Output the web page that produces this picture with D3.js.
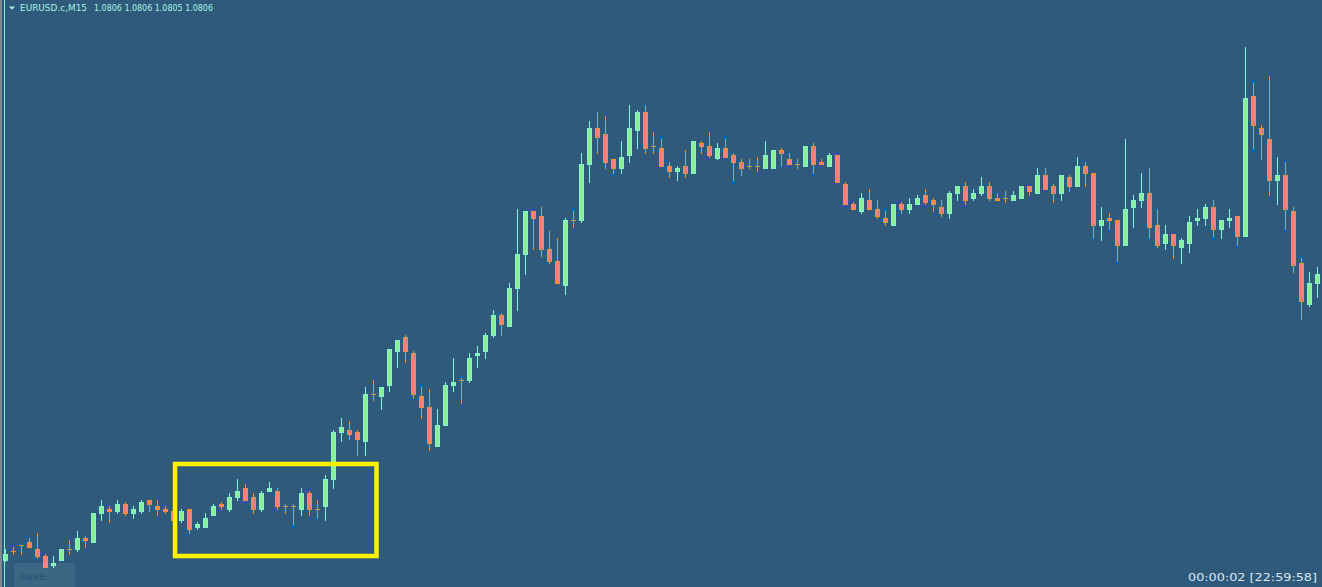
<!DOCTYPE html>
<html>
<head>
<meta charset="utf-8">
<script src="https://cdn.jsdelivr.net/npm/d3@7/dist/d3.min.js"></script>
<style>
html,body{margin:0;padding:0;background:#2f5a7b;overflow:hidden;}
svg{display:block;}
</style>
</head>
<body>
<svg id="chart" width="1322" height="587"></svg>
<script>
const symbolLabel = "EURUSD.c,M15";
const lastQuote = ["1.0806", "1.0806", "1.0805", "1.0806"];
const timerText = "00:00:02 [22:59:58]";
const buttonLabel = "save";

const open = [
1.07773,1.077825,1.077885,1.07792,1.07785,1.07778,1.07768,1.07773,1.07785,1.07784,
1.07796,1.07791,1.07820,1.07825,1.07822,1.07830,1.07820,1.07822,1.07834,1.07828,
1.07825,1.07823,1.07813,1.07825,1.07806,1.07806,1.07818,1.07830,1.07824,1.07836,
1.07846,1.07837,1.07824,1.07842,1.07843,1.07828,1.07828,1.07824,1.07841,1.07825,
1.07827,1.07854,1.07901,1.07904,1.07902,1.07892,1.07940,1.07937,1.07948,1.07982,
1.07997,1.07981,1.07938,1.07927,1.07887,1.07908,1.07948,1.07954,1.07953,1.07978,
1.07982,1.07998,1.08019,1.08007,1.08045,1.08079,1.08123,1.08118,1.08085,1.08073,
1.08048,1.08114,1.08113,1.08169,1.08206,1.08200,1.08175,1.08165,1.08178,1.08203,
1.08222,1.08188,1.08186,1.08168,1.08162,1.08168,1.08160,1.08191,1.08188,1.08175,
1.08186,1.08179,1.08172,1.08168,1.08168,1.08165,1.08165,1.08184,1.08175,1.08170,
1.08167,1.08188,1.08172,1.08167,1.08179,1.08150,1.08130,1.08122,1.08134,1.08125,
1.08116,1.08108,1.08130,1.08124,1.08129,1.08139,1.08134,1.08127,1.08120,1.08140,
1.08148,1.08135,1.08140,1.08148,1.08136,1.08136,1.08133,1.08135,1.08148,1.08140,
1.08159,1.08148,1.08140,1.08157,1.08147,1.08168,1.08161,1.08108,1.08116,1.08114,
1.08088,1.08126,1.08133,1.08141,1.08109,1.08090,1.08100,1.08086,1.08090,1.08113,
1.08115,1.08127,1.08104,1.08113,1.08118,1.08097,1.08238,1.08206,1.08195,1.08153,
1.08159,1.08123,1.08071,1.08029,1.08050];

const high = [
1.07785,1.07787,1.077885,1.07796,1.07801,1.07780,1.07778,1.07785,1.07794,1.07803,
1.07798,1.07821,1.07834,1.07828,1.07834,1.07832,1.07828,1.07834,1.07834,1.07834,
1.07828,1.07824,1.07825,1.07825,1.07812,1.07821,1.07830,1.07832,1.07841,1.07855,
1.07850,1.07841,1.07843,1.07852,1.07846,1.07830,1.07830,1.07846,1.07843,1.07834,
1.07859,1.07904,1.07916,1.07913,1.07904,1.07947,1.07954,1.07947,1.07985,1.07994,
1.07999,1.07983,1.07947,1.07945,1.07925,1.07952,1.07976,1.07956,1.07981,1.07988,
1.08001,1.08024,1.08021,1.08051,1.08125,1.08123,1.08123,1.08127,1.08103,1.08096,
1.08116,1.08123,1.08181,1.08213,1.08222,1.08218,1.08175,1.08193,1.08229,1.08224,
1.08229,1.08202,1.08195,1.08172,1.08168,1.08184,1.08193,1.08193,1.08202,1.08191,
1.08195,1.08181,1.08175,1.08175,1.08177,1.08193,1.08184,1.08186,1.08181,1.08175,
1.08188,1.08191,1.08175,1.08181,1.08179,1.08152,1.08132,1.08141,1.08145,1.08134,
1.08123,1.08130,1.08132,1.08136,1.08139,1.08145,1.08136,1.08134,1.08143,1.08148,
1.08152,1.08145,1.08157,1.08152,1.08141,1.08143,1.08143,1.08148,1.08148,1.08166,
1.08166,1.08150,1.08159,1.08159,1.08177,1.08172,1.08161,1.08127,1.08121,1.08114,
1.08195,1.08139,1.08161,1.08166,1.08125,1.08109,1.08100,1.08096,1.08118,1.08125,
1.08130,1.08134,1.08114,1.08125,1.08118,1.08287,1.08251,1.08209,1.08258,1.08177,
1.08172,1.08127,1.08076,1.08062,1.08067];

const low = [
1.07772,1.07779,1.07779,1.07786,1.07775,1.07766,1.07766,1.07773,1.07779,1.07782,
1.07786,1.07791,1.07813,1.07811,1.07820,1.07818,1.07815,1.07820,1.07822,1.07818,
1.07820,1.07812,1.07811,1.07800,1.07804,1.07806,1.07818,1.07824,1.07822,1.07833,
1.07833,1.07820,1.07822,1.07842,1.07824,1.07820,1.07809,1.07818,1.07818,1.07815,
1.07813,1.07845,1.07892,1.07894,1.07878,1.07878,1.07933,1.07924,1.07942,1.07966,
1.07971,1.07935,1.07915,1.07883,1.07887,1.07908,1.07942,1.07930,1.07951,1.07966,
1.07975,1.07996,1.07998,1.08007,1.08023,1.08059,1.08084,1.08077,1.08070,1.08050,
1.08039,1.08106,1.08111,1.08151,1.08180,1.08165,1.08160,1.08160,1.08171,1.08185,
1.08180,1.08180,1.08167,1.08156,1.08153,1.08156,1.08160,1.08180,1.08176,1.08174,
1.08176,1.08153,1.08158,1.08165,1.08162,1.08165,1.08165,1.08167,1.08169,1.08165,
1.08167,1.08160,1.08169,1.08167,1.08151,1.08129,1.08124,1.08120,1.08124,1.08115,
1.08108,1.08108,1.08120,1.08120,1.08129,1.08129,1.08122,1.08117,1.08115,1.08133,
1.08129,1.08133,1.08138,1.08133,1.08133,1.08131,1.08133,1.08135,1.08138,1.08140,
1.08144,1.08131,1.08133,1.08142,1.08147,1.08147,1.08095,1.08093,1.08104,1.08072,
1.08088,1.08106,1.08126,1.08095,1.08086,1.08084,1.08075,1.08070,1.08081,1.08108,
1.08108,1.08097,1.08095,1.08106,1.08088,1.08097,1.08185,1.08174,1.08138,1.08129,
1.08104,1.08061,1.08014,1.08027,1.08036];

const close = [
1.07780,1.077825,1.077885,1.07786,1.07777,1.07766,1.07771,1.07785,1.07785,1.07796,
1.07793,1.07821,1.07828,1.07822,1.07830,1.07820,1.07825,1.07832,1.07829,1.07824,
1.07822,1.07813,1.07823,1.07804,1.07810,1.07816,1.07828,1.07827,1.07837,1.07843,
1.07833,1.07824,1.07841,1.07846,1.07827,1.07828,1.07828,1.07841,1.07824,1.07825,
1.07855,1.07902,1.07907,1.07899,1.07894,1.07940,1.07940,1.07947,1.07985,1.07994,
1.07982,1.07939,1.07926,1.07890,1.07909,1.07949,1.07952,1.07954,1.07976,1.07981,
1.07999,1.08019,1.08009,1.08046,1.08080,1.08123,1.08115,1.08084,1.08072,1.08050,
1.08114,1.08114,1.08170,1.08206,1.08196,1.08171,1.08165,1.08177,1.08206,1.08222,
1.08185,1.08188,1.08167,1.08162,1.08166,1.08160,1.08193,1.08187,1.08178,1.08186,
1.08176,1.08171,1.08165,1.08168,1.08168,1.08179,1.08184,1.08180,1.08169,1.08170,
1.08188,1.08169,1.08169,1.08179,1.08151,1.08129,1.08124,1.08136,1.08124,1.08117,
1.08111,1.08130,1.08124,1.08130,1.08136,1.08131,1.08129,1.08120,1.08141,1.08148,
1.08133,1.08141,1.08148,1.08135,1.08133,1.08136,1.08139,1.08148,1.08142,1.08159,
1.08144,1.08140,1.08159,1.08147,1.08168,1.08160,1.08108,1.08114,1.08113,1.08088,
1.08125,1.08134,1.08141,1.08106,1.08088,1.08100,1.08088,1.08094,1.08112,1.08116,
1.08127,1.08104,1.08114,1.08116,1.08097,1.08236,1.08208,1.08199,1.08153,1.08159,
1.08124,1.08068,1.08032,1.08051,1.08060];

// highlighted zone (bar positions and price bounds)
const zoneBars = [21.19, 46.375];
const zonePrices = [1.07778, 1.07870];

const W = 1322, H = 587;
const C = {
  bg: "#2f5a7b", bullFill: "#90ee90", bullLine: "#7ff5d6",
  bearFill: "#fa8072", bearLine: "#f8901a", zone: "#fff200",
  label: "#a8f2e4", timer: "#dbe6ef"
};

const svg = d3.select("#chart");
svg.append("rect").attr("width", W).attr("height", H).attr("fill", C.bg);

const idx = d3.range(open.length);
const x = d3.scaleBand().domain(idx).range([1.5, 1.5 + 8 * open.length]).padding(0);
const xc = d3.scaleLinear().domain([0, open.length - 1]).range([x(0) + 4, x(open.length - 1) + 4]);
const y = d3.scaleLinear().domain([1.07747, 1.08334]).range([H, 0]);
const py = v => Math.round(y(v));
const bodyW = 5;

const g = svg.append("g");
const bars = g.selectAll("g.c").data(idx).join("g").attr("class", "c");

bars.append("line")
  .attr("x1", i => x(i) + 4).attr("x2", i => x(i) + 4)
  .attr("y1", i => py(high[i])).attr("y2", i => py(low[i]))
  .attr("stroke", i => close[i] > open[i] ? C.bullLine : C.bearLine)
  .attr("stroke-width", 1);

bars.each(function(i) {
  const sel = d3.select(this);
  const top = py(Math.max(open[i], close[i]));
  const bot = py(Math.min(open[i], close[i]));
  const x0 = x(i) + 1.5;
  if (bot - top < 1) {
    sel.append("rect").attr("x", x0).attr("y", top).attr("width", bodyW).attr("height", 1)
      .attr("fill", C.bearLine);
  } else {
    const bull = close[i] > open[i];
    sel.append("rect").attr("x", x0 + 0.5).attr("y", top + 0.5)
      .attr("width", bodyW - 1).attr("height", Math.max(bot - top - 1, 0.01))
      .attr("fill", bull ? C.bullFill : C.bearFill)
      .attr("stroke", bull ? C.bullLine : C.bearLine).attr("stroke-width", 1);
  }
});

// highlight rectangle
const zx0 = xc(zoneBars[0]), zx1 = xc(zoneBars[1]);
svg.append("rect")
  .attr("x", zx0).attr("y", y(zonePrices[1]))
  .attr("width", zx1 - zx0).attr("height", y(zonePrices[0]) - y(zonePrices[1]))
  .attr("fill", "none").attr("stroke", C.zone).attr("stroke-width", 4.5);

// frame
svg.append("rect").attr("x", 0).attr("y", 0).attr("width", 2).attr("height", H).attr("fill", "#7d8a95");
svg.append("rect").attr("x", 4).attr("y", 0).attr("width", 1).attr("height", H).attr("fill", "#7ff5d6");

// header
svg.append("path").attr("d", "M9,6.5 L15,6.5 L12,9.8 Z").attr("fill", C.label);
svg.append("text").attr("x", 20).attr("y", 11).attr("fill", C.label)
  .attr("font-family", "DejaVu Sans, sans-serif").attr("font-size", 8.5)
  .attr("textLength", 67).attr("lengthAdjust", "spacingAndGlyphs")
  .text(symbolLabel);
svg.append("text").attr("x", 94).attr("y", 11).attr("fill", C.label)
  .attr("font-family", "DejaVu Sans, sans-serif").attr("font-size", 8.5)
  .attr("textLength", 119).attr("lengthAdjust", "spacingAndGlyphs")
  .text(lastQuote.join(" "));

// timer
svg.append("text").attr("x", 1188).attr("y", 581).attr("fill", C.timer)
  .attr("font-family", "DejaVu Sans, sans-serif").attr("font-size", 11)
  .attr("textLength", 129).attr("lengthAdjust", "spacingAndGlyphs")
  .text(timerText);

// save button
svg.append("rect").attr("x", 14).attr("y", 563).attr("width", 61).attr("height", 26)
  .attr("fill", "#ffffff").attr("fill-opacity", 0.07);
svg.append("text").attr("x", 20).attr("y", 580).attr("fill", "#2c5373")
  .attr("font-family", "DejaVu Sans, sans-serif").attr("font-size", 11)
  .text(buttonLabel);
</script>
</body>
</html>
